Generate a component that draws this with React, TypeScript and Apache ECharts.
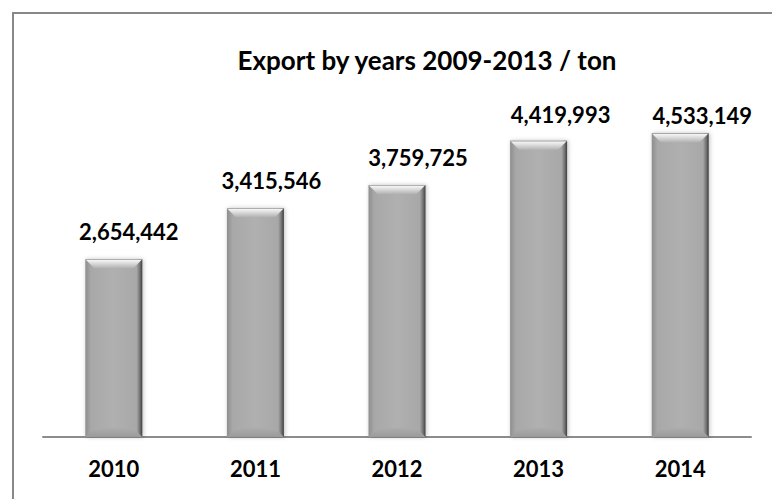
import React, { useEffect, useRef } from "react";
import * as echarts from "echarts";

const categories = ["2010", "2011", "2012", "2013", "2014"];
const exportTons = [2654442, 3415546, 3759725, 4419993, 4533149];
const titleText = "Export by years 2009-2013 / ton";

// label nudges (layout only)
const labelDx = [15, 16, 21, 22, 22];
const labelDy = [0, 0, 0, 2, 10];

const FONT = "Lato, 'Open Sans', sans-serif";
const BAR_W = 57;
const BEVEL = 9;

export default function App() {
  const ref = useRef<HTMLDivElement>(null);
  useEffect(() => {
    document.body.style.margin = "0";
    const chart = echarts.init(ref.current!, null, { renderer: "svg" });
    const barColor = new echarts.graphic.LinearGradient(0, 0, 1, 0, [
      { offset: 0, color: "#8e8e8e" },
      { offset: 0.1, color: "#a8a8a8" },
      { offset: 0.5, color: "#b0b0b0" },
      { offset: 0.9, color: "#a8a8a8" },
      { offset: 0.96, color: "#707070" },
      { offset: 1, color: "#3c3c3c" },
    ]);
    chart.setOption({
      animation: false,
      backgroundColor: "#ffffff",
      title: {
        text: titleText,
        left: 422,
        textAlign: "center",
        top: 42,
        textStyle: { fontFamily: FONT, fontWeight: "bold", fontSize: 26, color: "#000" },
      },
      graphic: [
        {
          type: "rect",
          shape: { x: 13, y: 13, width: 800, height: 600 },
          style: { fill: "none", stroke: "#888888", lineWidth: 2 },
          silent: true,
        },
      ],
      grid: { left: 43, right: 21, top: 102, bottom: 62 },
      xAxis: {
        type: "category",
        data: categories,
        axisLine: { show: true, lineStyle: { color: "#8c8c8c", width: 2 } },
        axisTick: { show: false },
        axisLabel: {
          margin: 20,
          fontFamily: FONT,
          fontWeight: "bold",
          fontSize: 22,
          color: "#000",
        },
      },
      yAxis: {
        type: "value",
        min: 0,
        max: 5000000,
        show: false,
        splitLine: { show: false },
      },
      series: [
        {
          type: "bar",
          barWidth: BAR_W,
          data: exportTons.map((v, i) => ({
            value: v,
            label: { offset: [labelDx[i], labelDy[i]] },
          })),
          itemStyle: {
            color: barColor,
            shadowColor: "rgba(0,0,0,0.25)",
            shadowBlur: 4,
            shadowOffsetX: 1,
          },
          label: {
            show: true,
            position: "top",
            distance: 17,
            fontFamily: FONT,
            fontWeight: "bold",
            fontSize: 22,
            color: "#000",
            formatter: (p: any) => Number(p.value).toLocaleString("en-US"),
          },
          z: 2,
        },
        {
          type: "custom",
          z: 3,
          silent: true,
          data: exportTons.map((v, i) => [i, v]),
          renderItem: (params: any, api: any) => {
            const top = api.coord([api.value(0), api.value(1)]);
            const base = api.coord([api.value(0), 0]);
            const x0 = top[0] - BAR_W / 2;
            const x1 = top[0] + BAR_W / 2;
            const y0 = top[1];
            const y1 = base[1];
            const b = BEVEL;
            return {
              type: "group",
              children: [
                {
                  type: "polygon",
                  shape: { points: [[x0, y0], [x1, y0], [x1 - b, y0 + b], [x0 + b, y0 + b]] },
                  style: {
                    fill: new echarts.graphic.LinearGradient(0, 0, 0, 1, [
                      { offset: 0, color: "#8a8a8a" },
                      { offset: 0.12, color: "#f4f4f4" },
                      { offset: 0.45, color: "#dcdcdc" },
                      { offset: 1, color: "#b2b2b2" },
                    ]),
                  },
                },
                {
                  type: "polygon",
                  shape: { points: [[x0, y1], [x1, y1], [x1 - b, y1 - b], [x0 + b, y1 - b]] },
                  style: {
                    fill: new echarts.graphic.LinearGradient(0, 0, 0, 1, [
                      { offset: 0, color: "#acacac" },
                      { offset: 1, color: "#9a9a9a" },
                    ]),
                  },
                },
              ],
            };
          },
        },
      ],
    });
    return () => chart.dispose();
  }, []);
  return <div ref={ref} style={{ width: 772, height: 499 }} />;
}
